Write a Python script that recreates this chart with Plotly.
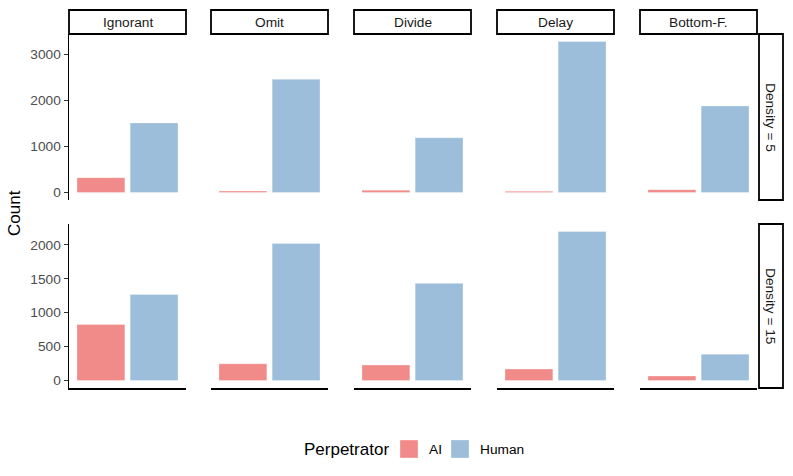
import plotly.graph_objects as go

strategies = ["Ignorant", "Omit", "Divide", "Delay", "Bottom-F."]
densities = ["Density = 5", "Density = 15"]
perpetrators = ["AI", "Human"]
ai_d5 = [320, 30, 50, 25, 60]
human_d5 = [1510, 2460, 1190, 3280, 1880]
ai_d15 = [825, 247, 228, 169, 66]
human_d15 = [1266, 2020, 1432, 2196, 389]
yticks_d5 = [0, 1000, 2000, 3000]
yticks_d15 = [0, 500, 1000, 1500, 2000]

colors = {"AI": "#F08B8A", "Human": "#9CBEDA"}
W, H = 793, 476

def px_x(p):
    return p / W

def px_y(p):
    return 1 - p / H

panel_left = [69, 211, 354, 497, 640]
panel_w = 117
rows_px = [(34, 200), (224, 388)]
data_rows = [(ai_d5, human_d5, yticks_d5), (ai_d15, human_d15, yticks_d15)]

fig = go.Figure()
layout = {}
shapes = []
annotations = []

for r, (ai_vals, hu_vals, yt) in enumerate(data_rows):
    ymax = max(max(ai_vals), max(hu_vals))
    yr = [-0.05 * ymax, 1.05 * ymax]
    for c in range(5):
        idx = r * 5 + c + 1
        xa = "x" if idx == 1 else f"x{idx}"
        ya = "y" if idx == 1 else f"y{idx}"
        for p, vals in (("AI", ai_vals), ("Human", hu_vals)):
            fig.add_trace(go.Bar(
                x=[p], y=[vals[c]], name=p,
                marker=dict(color=colors[p], line=dict(width=0.6, color="rgba(255,255,255,0.5)")),
                xaxis=xa, yaxis=ya, showlegend=False,
            ))
        x0 = px_x(panel_left[c]); x1 = px_x(panel_left[c] + panel_w)
        y0 = px_y(rows_px[r][1]); y1 = px_y(rows_px[r][0])
        layout["xaxis" if idx == 1 else f"xaxis{idx}"] = dict(
            domain=[x0, x1], anchor=ya, range=[-0.6, 1.6],
            categoryorder="array", categoryarray=perpetrators,
            showticklabels=False, ticks="", showgrid=False, zeroline=False,
            showline=(r == 1), linecolor="black", linewidth=1.5,
            fixedrange=True, automargin=False,
        )
        layout["yaxis" if idx == 1 else f"yaxis{idx}"] = dict(
            domain=[y0, y1], anchor=xa, range=yr,
            tickvals=yt, showticklabels=(c == 0),
            ticks="outside" if c == 0 else "", ticklen=4, tickcolor="#333333",
            tickwidth=1.2,
            tickfont=dict(size=13.7, color="#4D4D4D"),
            showgrid=False, zeroline=False,
            showline=(c == 0), linecolor="black", linewidth=1.5,
            fixedrange=True, automargin=False,
        )

# top strips
for c, s in enumerate(strategies):
    shapes.append(dict(type="rect", xref="paper", yref="paper",
                       x0=px_x(panel_left[c]), x1=px_x(panel_left[c] + panel_w),
                       y0=px_y(34), y1=px_y(10),
                       line=dict(color="black", width=1.8), fillcolor="white"))
    annotations.append(dict(x=px_x(panel_left[c] + panel_w / 2), y=px_y(22),
                            xref="paper", yref="paper", text=s, showarrow=False,
                            xanchor="center", yanchor="middle",
                            font=dict(size=13.7, color="#1A1A1A")))
# right strips
for r, d in enumerate(densities):
    top, bot = rows_px[r]
    shapes.append(dict(type="rect", xref="paper", yref="paper",
                       x0=px_x(759), x1=px_x(783),
                       y0=px_y(bot), y1=px_y(top),
                       line=dict(color="black", width=1.8), fillcolor="white"))
    annotations.append(dict(x=px_x(771), y=px_y((top + bot) / 2),
                            xref="paper", yref="paper", text=d, showarrow=False,
                            xanchor="center", yanchor="middle",
                            textangle=90, font=dict(size=13.7, color="#1A1A1A")))

annotations.append(dict(x=px_x(15), y=px_y(213), xref="paper", yref="paper",
                        text="Count", showarrow=False, textangle=-90,
                        xanchor="center", yanchor="middle",
                        font=dict(size=17, color="black")))

# legend (drawn manually to match swatch size)
leg_y = 449
annotations.append(dict(x=px_x(302), y=px_y(leg_y), xref="paper", yref="paper",
                        text="Perpetrator", showarrow=False,
                        xanchor="left", yanchor="middle",
                        font=dict(size=17, color="black")))
sw_left = [400, 451]
for p, sl in zip(perpetrators, sw_left):
    shapes.append(dict(type="rect", xref="paper", yref="paper",
                       x0=px_x(sl), x1=px_x(sl + 18),
                       y0=px_y(leg_y + 9), y1=px_y(leg_y - 9),
                       line=dict(color="rgba(255,255,255,0.5)", width=0.6),
                       fillcolor=colors[p]))
    annotations.append(dict(x=px_x(sl + 27), y=px_y(leg_y), xref="paper", yref="paper",
                            text=p, showarrow=False,
                            xanchor="left", yanchor="middle",
                            font=dict(size=13.7, color="black")))

fig.update_layout(
    **layout,
    width=W, height=H,
    margin=dict(l=0, r=0, t=0, b=0, autoexpand=False),
    paper_bgcolor="white", plot_bgcolor="white",
    barmode="overlay", bargap=0.1,
    font=dict(family="Liberation Sans, Arial, sans-serif"),
    shapes=shapes, annotations=annotations,
    showlegend=False, hovermode=False,
)

fig.write_html("out.html",
               config={"displayModeBar": False, "staticPlot": True},
               post_script="document.body.style.margin='0';document.body.style.overflow='hidden';")
